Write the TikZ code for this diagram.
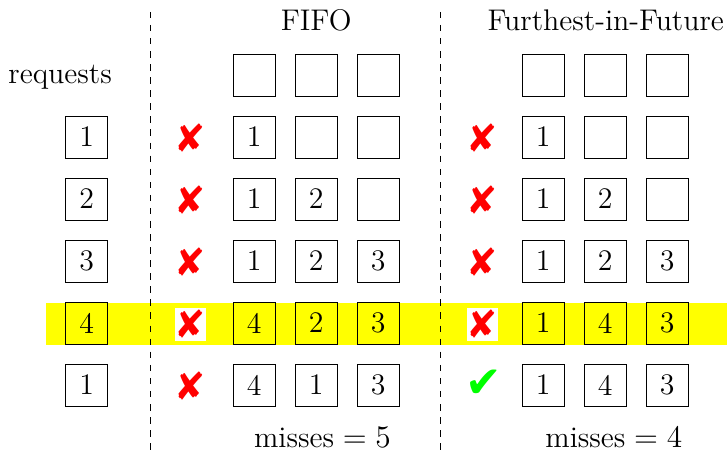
\documentclass[tikz,border=0pt]{standalone}
\usepackage{amsmath}
\usepackage{fontspec}
\usepackage{pifont}
\usepackage{tikz}
\newfontfamily\checkfont{DejaVu Sans}
\definecolor{hlyellow}{RGB}{255,255,0}

\begin{document}
\begin{tikzpicture}[
    every node/.style={font=\fontsize{13.7}{16}\selectfont},
    box/.style={draw, minimum size=0.68cm, inner sep=0pt},
    hl/.style={box, fill=hlyellow},
    miss/.style={text=red, inner sep=1pt, font=\fontsize{18}{18}\selectfont},
    hit/.style={text=green, inner sep=1pt, font=\checkfont\fontsize{20}{20}\selectfont},
    sep/.style={dashed}]
    \useasboundingbox (0,0) rectangle (11.726,-7.258);
    \fill[hlyellow] (0.74,-4.887) rectangle (11.726,-5.565);

    \coordinate (s1) at (2.42,-0.19);
    \coordinate (s2) at (2.42,-7.258);
    \coordinate (t1) at (7.11,-0.19);
    \coordinate (t2) at (7.11,-7.258);
    \draw[sep] (s1) -- (s2);
    \draw[sep] (t1) -- (t2);

    \node (fifo) at (5.1,-0.32) {FIFO};
    \node (fif) at (9.77,-0.32) {Furthest-in-Future};
    \node (req) at (0.97,-1.24) {requests};

    \node[box] (a01) at (4.1,-1.21) {};
    \node[box] (a02) at (5.1,-1.21) {};
    \node[box] (a03) at (6.1,-1.21) {};
    \node[box] (b01) at (8.76,-1.21) {};
    \node[box] (b02) at (9.76,-1.21) {};
    \node[box] (b03) at (10.76,-1.21) {};

    \node[box] (r1) at (1.4,-2.21) {1};
    \node[miss] (ax1) at (3.07,-2.23) {\ding{56}};
    \node[box] (a11) at (4.1,-2.21) {1};
    \node[box] (a12) at (5.1,-2.21) {};
    \node[box] (a13) at (6.1,-2.21) {};
    \node[miss] (bx1) at (7.78,-2.23) {\ding{56}};
    \node[box] (b11) at (8.76,-2.21) {1};
    \node[box] (b12) at (9.76,-2.21) {};
    \node[box] (b13) at (10.76,-2.21) {};

    \node[box] (r2) at (1.4,-3.21) {2};
    \node[miss] (ax2) at (3.07,-3.23) {\ding{56}};
    \node[box] (a21) at (4.1,-3.21) {1};
    \node[box] (a22) at (5.1,-3.21) {2};
    \node[box] (a23) at (6.1,-3.21) {};
    \node[miss] (bx2) at (7.78,-3.23) {\ding{56}};
    \node[box] (b21) at (8.76,-3.21) {1};
    \node[box] (b22) at (9.76,-3.21) {2};
    \node[box] (b23) at (10.76,-3.21) {};

    \node[box] (r3) at (1.4,-4.21) {3};
    \node[miss] (ax3) at (3.07,-4.23) {\ding{56}};
    \node[box] (a31) at (4.1,-4.21) {1};
    \node[box] (a32) at (5.1,-4.21) {2};
    \node[box] (a33) at (6.1,-4.21) {3};
    \node[miss] (bx3) at (7.78,-4.23) {\ding{56}};
    \node[box] (b31) at (8.76,-4.21) {1};
    \node[box] (b32) at (9.76,-4.21) {2};
    \node[box] (b33) at (10.76,-4.21) {3};

    \node[hl] (r4) at (1.4,-5.21) {4};
    \node[miss, fill=white] (ax4) at (3.07,-5.23) {\ding{56}};
    \node[hl] (a41) at (4.1,-5.21) {4};
    \node[hl] (a42) at (5.1,-5.21) {2};
    \node[hl] (a43) at (6.1,-5.21) {3};
    \node[miss, fill=white] (bx4) at (7.78,-5.23) {\ding{56}};
    \node[hl] (b41) at (8.76,-5.21) {1};
    \node[hl] (b42) at (9.76,-5.21) {4};
    \node[hl] (b43) at (10.76,-5.21) {3};

    \node[box] (r5) at (1.4,-6.21) {1};
    \node[miss] (ax5) at (3.07,-6.23) {\ding{56}};
    \node[box] (a51) at (4.1,-6.21) {4};
    \node[box] (a52) at (5.1,-6.21) {1};
    \node[box] (a53) at (6.1,-6.21) {3};
    \node[hit] (bx5) at (7.8,-6.19) {✔};
    \node[box] (b51) at (8.76,-6.21) {1};
    \node[box] (b52) at (9.76,-6.21) {4};
    \node[box] (b53) at (10.76,-6.21) {3};

    \node[inner sep=1pt] (am) at (5.2,-7.06) {$\text{misses} = 5$};
    \node[inner sep=1pt] (bm) at (9.9,-7.06) {$\text{misses} = 4$};
  \end{tikzpicture}
\end{document}
